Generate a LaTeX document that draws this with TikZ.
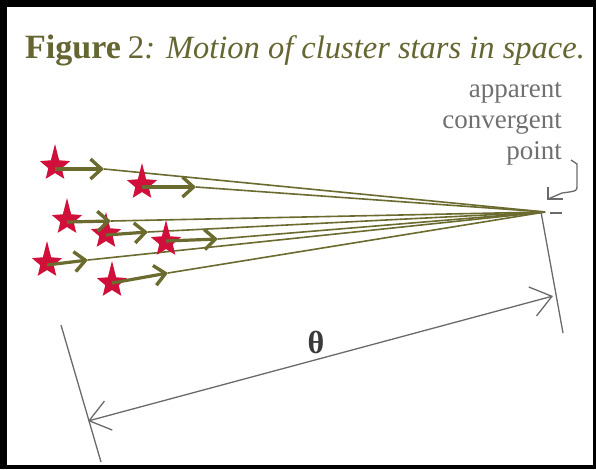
\documentclass[tikz,border=0pt]{standalone}
\usepackage{fontspec}
\setmainfont{Liberation Serif}
\usetikzlibrary{arrows.meta}
\definecolor{olivec}{HTML}{6B6B30}
\definecolor{titlec}{HTML}{666633}
\definecolor{starred}{HTML}{D0103A}
\definecolor{graytext}{HTML}{707070}
\definecolor{dimc}{HTML}{6A6A6A}
\definecolor{thetac}{HTML}{3A3A3A}
\tikzset{
  redstar/.pic={\fill[starred, scale=1.22] (0,-18) -- (3.4,-4.7) -- (12.4,-4) -- (5.5,1.8) -- (7.6,10.5) -- (0,5.8) -- (-7.6,10.5) -- (-5.5,1.8) -- (-12.4,-4) -- (-3.4,-4.7) -- cycle;},
  motion/.style={draw=olivec, line width=3.2pt, -{Straight Barb[length=11pt,width=20pt,line width=3.4pt]}},
  ray/.style={draw=olivec, line width=1.6pt},
  dimline/.style={draw=dimc, line width=1.3pt},
  dimarrow/.style={dimline, {Straight Barb[length=20pt,width=30pt,line width=1.3pt]}-{Straight Barb[length=20pt,width=30pt,line width=1.3pt]}},
  lbl/.style={text=graytext, inner sep=0pt, anchor=base east, font=\fontsize{27}{31}\selectfont}
}
\begin{document}
\begin{tikzpicture}[x=1pt,y=-1pt]
\useasboundingbox (0,0) rectangle (596,469);
\fill[black] (0,0) rectangle (596,469);
\fill[white] (7,7) rectangle (593,465);

% title
\node[anchor=base west, inner sep=0pt, text=titlec] (title) at (25,58)
  {\fontsize{34}{40}\selectfont{\bfseries Figure}\hspace{7pt}{\fontsize{33}{40}\selectfont 2}{\fontsize{32.5}{36}\selectfont\itshape: Motion of cluster stars in space.}};

% label
\node[lbl] (lbl1) at (562,97) {apparent};
\node[lbl] (lbl2) at (562,128) {convergent};
\node[lbl] (lbl3) at (562,159) {point};

% convergent point
\coordinate (C) at (545,212);

% star centres
\coordinate (s1) at (55,166);
\coordinate (s2) at (142,185);
\coordinate (s3) at (67,220);
\coordinate (s4) at (106,234);
\coordinate (s5) at (166,242);
\coordinate (s6) at (47,263);
\coordinate (s7) at (112,283);
% arrow tips
\coordinate (a1) at (104,169);
\coordinate (a2) at (196,187);
\coordinate (a3) at (111,221);
\coordinate (a4) at (148,232);
\coordinate (a5) at (218,239);
\coordinate (a6) at (88,260);
\coordinate (a7) at (168,273);

% rays
\foreach \i in {1,...,7} {\draw[ray] (a\i) -- (C);}

% stars
\foreach \i in {1,...,7} {\pic at (s\i) {redstar};}

% motion arrows
\draw[motion] (55,169) -- (a1);
\draw[motion] (142,187) -- (a2);
\draw[motion] (67,222) -- (a3);
\draw[motion] (106,235) -- (a4);
\draw[motion] (166,241) -- (a5);
\draw[motion] (47,265) -- (a6);
\draw[motion] (112,283) -- (a7);

% pointer from label
\coordinate (k0) at (571,160);
\coordinate (k1) at (577,164);
\coordinate (k2) at (577,186);
\coordinate (k3) at (562,193);
\coordinate (kt) at (548,199);
\coordinate (kb1) at (548,187);
\coordinate (kb2) at (563,199);
\draw[dimline] (k0) -- (k1) -- (k2) .. controls (577,191) .. (k3) -- (kt);
\draw[dimline] (kb1) -- (kt) -- (kb2);
\draw[dimline] (550,213) -- (562,213);

% extension lines
\coordinate (e1a) at (61,325);
\coordinate (e1b) at (101,462);
\coordinate (e2a) at (541,212);
\coordinate (e2b) at (563,333);
\draw[dimline] (e1a) -- (e1b);
\draw[dimline] (e2a) -- (e2b);

% dimension
\coordinate (dl) at (88,421);
\coordinate (dr) at (553,296);
\draw[dimarrow] (dl) -- (dr);
\node[text=thetac, inner sep=0pt, font=\fontsize{32}{36}\selectfont\bfseries] (theta) at (316,342) {θ};
\end{tikzpicture}
\end{document}
